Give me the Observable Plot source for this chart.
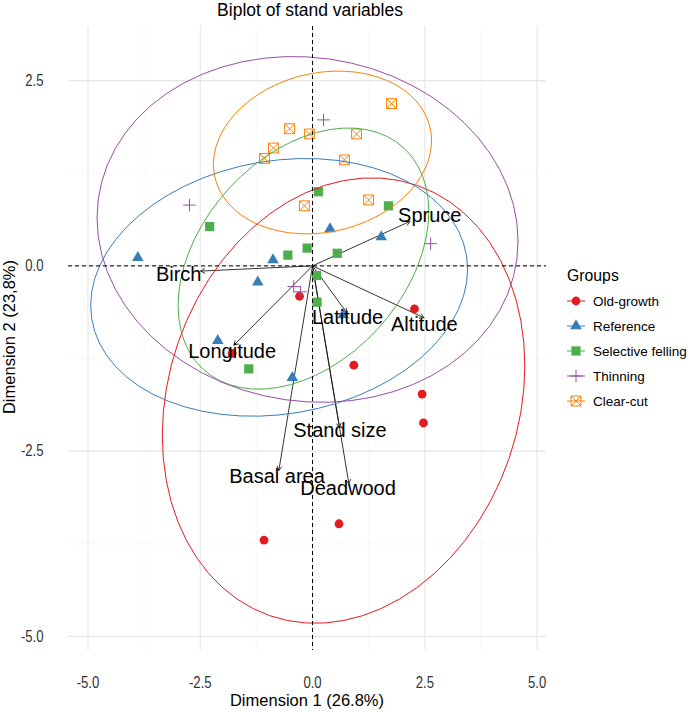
<!DOCTYPE html>
<html>
<head>
<meta charset="utf-8">
<script src="https://cdn.jsdelivr.net/npm/d3@7"></script>
<script src="https://cdn.jsdelivr.net/npm/@observablehq/plot@0.6"></script>
<style>
  body { margin: 0; background: #fff; }
  #wrap { position: relative; width: 690px; height: 712px; overflow: hidden; font-family: "Liberation Sans", Arial, sans-serif; color: #000; }
  #title { position: absolute; left: 0; top: 0px; width: 620px; text-align: center; font-size: 17.5px; line-height: 20px; }
  #chart { position: absolute; left: 0; top: 24px; }
  #xlab { position: absolute; left: 0; top: 691px; width: 614px; text-align: center; font-size: 16.5px; line-height: 18px; }
  #ylab { position: absolute; left: -141px; top: 328px; width: 300px; text-align: center; font-size: 16.5px; line-height: 18px; transform: rotate(-90deg); }
  #legend { position: absolute; left: 560px; top: 260px; }
</style>
</head>
<body>
<div id="wrap">
  <div id="title">Biplot of stand variables</div>
  <div id="chart"></div>
  <div id="ylab">Dimension 2 (23,8%)</div>
  <div id="xlab">Dimension 1 (26.8%)</div>
  <div id="legend"></div>
</div>
<script>
// ---------- data ----------
const groups = ["Old-growth", "Reference", "Selective felling", "Thinning", "Clear-cut"];
const groupColors = ["#E41A1C", "#377EB8", "#4DAF4A", "#984EA3", "#FF7F00"];

const oldGrowthX = [-0.29, -1.79, 0.92, 2.27, 2.44, 2.47, 0.59, -1.08];
const oldGrowthY = [-0.41, -1.18, -1.34, -0.58, -1.73, -2.12, -3.48, -3.70];

const referenceX = [-3.89, -0.88, -1.22, 0.39, 1.53, -2.11, -0.45, 0.68];
const referenceY = [0.11, 0.08, -0.22, 0.50, 0.39, -1.01, -1.51, -0.66];

const selectiveX = [-2.29, -0.55, -0.12, 0.13, 1.69, 0.55, 0.09, 0.10, -1.42];
const selectiveY = [0.53, 0.145, 0.24, 1.00, 0.81, 0.17, -0.13, -0.49, -1.39];

const thinningX = [-2.74, 0.245, 2.63, -0.42, -0.27];
const thinningY = [0.82, 1.97, 0.30, -0.28, -0.35];

const clearcutX = [1.76, -0.51, -0.07, 0.98, 0.71, 1.25, -0.18, -0.87, -1.07];
const clearcutY = [2.19, 1.85, 1.78, 1.78, 1.43, 0.89, 0.81, 1.59, 1.45];

const variableNames = ["Spruce", "Birch", "Longitude", "Latitude", "Altitude", "Stand size", "Basal area", "Deadwood"];
const loadingX = [2.17, -2.49, -1.75, 0.76, 2.48, 0.60, -0.75, 0.81];
const loadingY = [0.60, -0.07, -1.07, -0.63, -0.70, -2.18, -2.76, -2.94];
const labelX = [2.61, -2.98, -1.79, 0.78, 2.49, 0.61, -0.79, 0.79];
const labelY = [0.68, -0.12, -1.16, -0.70, -0.79, -2.22, -2.85, -3.01];

const xTicks = [-5, -2.5, 0, 2.5, 5];
const yTicks = [2.5, 0, -2.5, -5];
const xMinorTicks = [-3.75, -1.25, 1.25, 3.75];
const yMinorTicks = [1.25, -1.25, -3.75];
const xDomain = [-5.434, 5.21];
const yDomain = [-5.19, 3.23];

// ---------- build tables ----------
const seriesX = [oldGrowthX, referenceX, selectiveX, thinningX, clearcutX];
const seriesY = [oldGrowthY, referenceY, selectiveY, thinningY, clearcutY];
const points = [];
groups.forEach((g, gi) => seriesX[gi].forEach((x, i) => points.push({group: g, x, y: seriesY[gi][i]})));

// normal-theory 95% ellipse (as ggbiplot): mean + sqrt(qchisq(.95,2)) * chol(cov)
const r95 = Math.sqrt(-2 * Math.log(1 - 0.95));
function ellipseRows(g, xs, ys, n = 60) {
  const k = xs.length, mx = d3.mean(xs), my = d3.mean(ys);
  let sxx = 0, syy = 0, sxy = 0;
  for (let i = 0; i < k; i++) {
    sxx += (xs[i] - mx) ** 2; syy += (ys[i] - my) ** 2; sxy += (xs[i] - mx) * (ys[i] - my);
  }
  sxx /= k - 1; syy /= k - 1; sxy /= k - 1;
  const a = Math.sqrt(sxx), b = sxy / a, c = Math.sqrt(syy - b * b);
  return d3.range(n + 1).map(i => {
    const t = 2 * Math.PI * i / n;
    return {group: g, x: mx + r95 * a * Math.cos(t), y: my + r95 * (b * Math.cos(t) + c * Math.sin(t))};
  });
}
const ellipses = groups.flatMap((g, gi) => ellipseRows(g, seriesX[gi], seriesY[gi]));

const vars = variableNames.map((name, i) => ({name, x: loadingX[i], y: loadingY[i], lx: labelX[i], ly: labelY[i]}));

// boxed-x symbol (ggplot shape 7)
const symbolBoxX = {
  draw(ctx, size) {
    const h = Math.sqrt(size) * 0.62;
    ctx.moveTo(-h, -h); ctx.lineTo(h, -h); ctx.lineTo(h, h); ctx.lineTo(-h, h); ctx.closePath();
    ctx.moveTo(-h, -h); ctx.lineTo(h, h);
    ctx.moveTo(h, -h); ctx.lineTo(-h, h);
  }
};

// font detection for the narrow tick-label face
function hasFont(name) {
  const c = document.createElement("canvas").getContext("2d");
  const s = "-5.0 2.5 mmmWWiil";
  c.font = "40px monospace"; const w0 = c.measureText(s).width;
  c.font = `40px "${name}", monospace`; const w1 = c.measureText(s).width;
  return Math.abs(w0 - w1) > 0.5;
}
const narrow = hasFont("Liberation Sans Narrow");
const tickFont = narrow ? "'Liberation Sans Narrow', 'Arial Narrow', sans-serif" : "'Liberation Sans', Arial, sans-serif";
const tickSize = 16;

const fmt = d => d.toFixed(1);
const sel = g => points.filter(d => d.group === g);

const chart = Plot.plot({
  width: 690,
  height: 688,
  marginLeft: 68,
  marginRight: 144,
  marginTop: 2,
  marginBottom: 62,
  style: {fontFamily: "'Liberation Sans', Arial, sans-serif", background: "#fff"},
  x: {domain: xDomain, label: null},
  y: {domain: yDomain, label: null},
  color: {domain: groups, range: groupColors},
  marks: [
    Plot.gridX(xMinorTicks, {stroke: "#f3f3f3", strokeOpacity: 1, strokeWidth: 0.6}),
    Plot.gridY(yMinorTicks, {stroke: "#f3f3f3", strokeOpacity: 1, strokeWidth: 0.6}),
    Plot.gridX(xTicks, {stroke: "#e6e6e6", strokeOpacity: 1, strokeWidth: 1.1}),
    Plot.gridY(yTicks, {stroke: "#e6e6e6", strokeOpacity: 1, strokeWidth: 1.1}),
    Plot.axisX(xTicks, {tickSize: 0, tickPadding: 26.6, tickFormat: fmt, label: null,
      fontFamily: tickFont, fontSize: tickSize, fill: "#333"}),
    Plot.axisY(yTicks, {tickSize: 0, tickPadding: 25, tickFormat: fmt, label: null,
      fontFamily: tickFont, fontSize: tickSize, fill: "#333"}),
    Plot.arrow(vars, {x1: () => 0, y1: () => 0, x2: "x", y2: "y",
      stroke: "#111", strokeWidth: 0.85, headLength: 8, headAngle: 60}),
    Plot.dot(sel("Old-growth"), {x: "x", y: "y", fill: "group", r: 4.4, symbol: "circle"}),
    Plot.dot(sel("Reference"), {x: "x", y: "y", fill: "group", r: 4.3, symbol: "triangle"}),
    Plot.dot(sel("Selective felling"), {x: "x", y: "y", fill: "group", r: 5.2, symbol: "square"}),
    Plot.dot(sel("Thinning"), {x: "x", y: "y", stroke: "group", fill: "none", r: 4.1, symbol: "plus", strokeWidth: 1}),
    Plot.dot(sel("Clear-cut"), {x: "x", y: "y", stroke: "group", fill: "none", r: 4.5, symbol: symbolBoxX, strokeWidth: 1}),
    Plot.line(ellipses, {x: "x", y: "y", z: "group", stroke: "group", strokeWidth: 1, curve: "linear"}),
    Plot.text(vars, {x: "lx", y: "ly", text: "name", fontSize: 20, fill: "#000",
      fontFamily: "'Liberation Sans', Arial, sans-serif"}),
    Plot.ruleX([0], {stroke: "#000", strokeWidth: 1, strokeDasharray: "4,3"}),
    Plot.ruleY([0], {stroke: "#000", strokeWidth: 1, strokeDasharray: "4,3"})
  ]
});
document.getElementById("chart").appendChild(chart);

// emulate the condensed tick-label face when the narrow font is not installed
if (!narrow) {
  d3.select(chart).selectAll('g[aria-label="x-axis tick label"] text, g[aria-label="y-axis tick label"] text')
    .each(function () {
      const w = this.getComputedTextLength();
      if (w > 0) this.setAttribute("textLength", (w * 0.82).toFixed(2));
      this.setAttribute("lengthAdjust", "spacingAndGlyphs");
    });
}

// ---------- legend ----------
const legendSymbols = [d3.symbolCircle, d3.symbolTriangle, d3.symbolSquare, d3.symbolPlus, symbolBoxX];
const legendR = [4.4, 4.3, 5.2, 4.1, 4.5];
const legendFilled = [true, true, true, false, false];
const lg = d3.select("#legend").append("svg").attr("width", 130).attr("height", 160)
  .style("font-family", "'Liberation Sans', Arial, sans-serif");
lg.append("text").attr("x", 7).attr("y", 20.7).attr("font-size", 15.8).attr("fill", "#000").text("Groups");
groups.forEach((g, i) => {
  const cy = 41 + i * 25;
  const row = lg.append("g");
  row.append("line").attr("x1", 7).attr("x2", 25).attr("y1", cy).attr("y2", cy)
    .attr("stroke", groupColors[i]).attr("stroke-width", 1);
  const path = d3.symbol(legendSymbols[i], Math.PI * legendR[i] * legendR[i])();
  row.append("path").attr("d", path).attr("transform", `translate(16,${cy})`)
    .attr("fill", legendFilled[i] ? groupColors[i] : "none")
    .attr("stroke", legendFilled[i] ? "none" : groupColors[i]).attr("stroke-width", 1);
  row.append("text").attr("x", 33).attr("y", cy + 4.8).attr("font-size", 13.5).attr("fill", "#000").text(g);
});
</script>
</body>
</html>
